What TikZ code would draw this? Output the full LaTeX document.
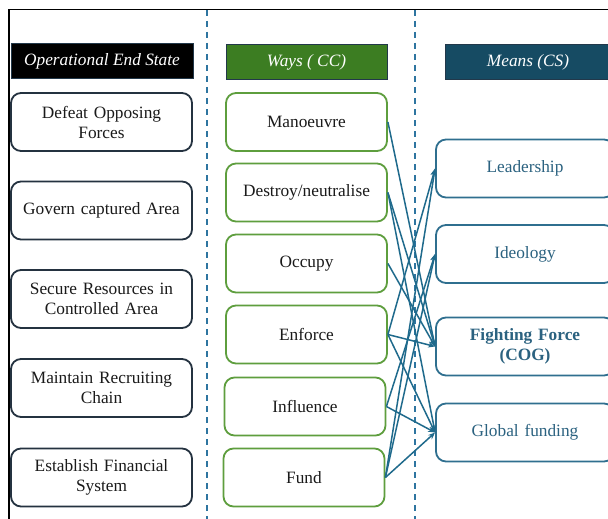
\documentclass[tikz,border=0pt]{standalone}
\usepackage{fontspec}
\setmainfont{Liberation Serif}
\usetikzlibrary{arrows.meta}
\definecolor{oesborder}{HTML}{243240}
\definecolor{waysborder}{HTML}{5E9E3E}
\definecolor{meansborder}{HTML}{2F6F8F}
\definecolor{waysfill}{HTML}{3C7D22}
\definecolor{meansfill}{HTML}{164B63}
\definecolor{hdrborder}{HTML}{22384A}
\definecolor{sepcol}{HTML}{2E75A0}
\definecolor{linkcol}{HTML}{1F6A8C}
\definecolor{meanstext}{HTML}{2B6280}
\definecolor{bodytext}{HTML}{1A1A1A}
\begin{document}
\begin{tikzpicture}[x=1pt,y=-1pt,
  font=\fontsize{17.3}{20}\selectfont,
  hdr/.style={draw=hdrborder, line width=1pt, minimum height=35pt, text=white, font=\fontsize{17.3}{20}\selectfont\itshape, inner sep=0pt},
  box/.style={rounded corners=10pt, line width=1.8pt, fill=white, minimum height=58pt, align=center, inner sep=0pt, text=bodytext},
  oesbox/.style={box, draw=oesborder, minimum width=181pt, text width=175pt},
  waysbox/.style={box, draw=waysborder, minimum width=161pt, text width=155pt},
  meansbox/.style={box, draw=meansborder, minimum width=178pt, text width=170pt, text=meanstext},
  sepline/.style={draw=sepcol, line width=1.6pt, dash pattern=on 6pt off 5pt},
  link/.style={draw=linkcol, line width=1.5pt, -{Stealth[length=7pt,width=5.5pt]}}
]
\useasboundingbox (0,0) rectangle (608,519);
\clip (0,0) rectangle (608,519);
\fill[white] (0,0) rectangle (608,519);
\draw[line width=1.5pt] (9,519) -- (9,9.5) -- (608,9.5);
\draw[sepline] (207,10) -- (207,519);
\draw[sepline] (415,10) -- (415,519);

% headers
\node[hdr, fill=black, minimum width=182pt] (hoes) at (102,61.5) {Operational End State};
\node[hdr, fill=waysfill, minimum width=161pt] (hways) at (306.5,62.5) {Ways ( CC)};
\node[hdr, fill=meansfill, minimum width=166pt] (hmeans) at (528,62.5) {Means (CS)};

% operational end state
\node[oesbox] (o1) at (101.5,122) {Defeat Opposing\\Forces};
\node[oesbox] (o2) at (101.5,210.5) {Govern captured Area};
\node[oesbox] (o3) at (101.5,299) {Secure Resources in\\Controlled Area};
\node[oesbox] (o4) at (101.5,388) {Maintain Recruiting\\Chain};
\node[oesbox] (o5) at (101.5,477.5) {Establish Financial\\System};

% ways
\node[waysbox] (w1) at (306.5,122) {Manoeuvre};
\node[waysbox] (w2) at (306.5,192.5) {Destroy/neutralise};
\node[waysbox] (w3) at (306.5,263.5) {Occupy};
\node[waysbox] (w4) at (306.5,334.5) {Enforce};
\node[waysbox] (w5) at (305,406.5) {Influence};
\node[waysbox] (w6) at (304,477.5) {Fund};

% means
\node[meansbox] (m1) at (525,168.5) {Leadership};
\node[meansbox] (m2) at (525,254) {Ideology};
\node[meansbox] (m3) at (525,346.5) {\textbf{Fighting Force}\\\textbf{(COG)}};
\node[meansbox] (m4) at (525,432.5) {Global funding};

% links
\draw[link] (w1.east) -- (m3.west);
\draw[link] (w2.east) -- (m3.west);
\draw[link] (w2.east) -- (m4.west);
\draw[link] (w3.east) -- (m3.west);
\draw[link] (w4.east) -- (m1.west);
\draw[link] (w4.east) -- (m3.west);
\draw[link] (w4.east) -- (m4.west);
\draw[link] (w5.east) -- (m2.west);
\draw[link] (w5.east) -- (m4.west);
\draw[link] (w6.east) -- (m1.west);
\draw[link] (w6.east) -- (m2.west);
\draw[link] (w6.east) -- (m4.west);
\end{tikzpicture}
\end{document}
